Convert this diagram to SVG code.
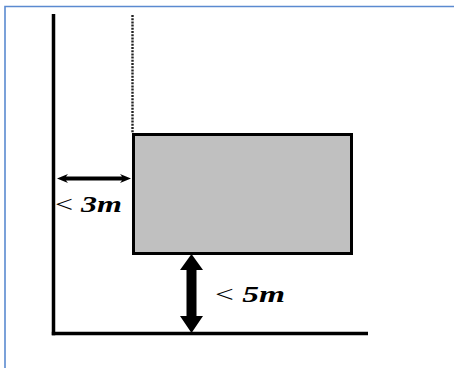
<svg xmlns="http://www.w3.org/2000/svg" width="454" height="368" viewBox="0 0 454 368">
  <style>
    .frame { fill: none; stroke: #5b8ad0; stroke-width: 1.6; }
    .wall { stroke: #000; stroke-width: 3.5; fill: none; }
    .dots { stroke: #222; stroke-width: 2.4; stroke-dasharray: 2 1.2; fill: none; }
    .box { fill: #c0c0c0; stroke: #000; stroke-width: 3; }
    .arrow { fill: #000; stroke: none; }
    .lbl { font-family: "Liberation Serif", "Times New Roman", serif; font-size: 24px; fill: #000; }
    .it { font-weight: bold; font-style: italic; }
  </style>
  <rect width="454" height="368" fill="#fff"/>
  <path class="frame" d="M5,368 V6.5 H454"/>
  <g id="wall">
    <path class="wall" d="M53.5,14 V335.3"/>
  </g>
  <g id="ground">
    <path class="wall" d="M51.8,333.5 H368"/>
  </g>
  <g id="boundary">
    <path class="dots" d="M132.5,15 V133"/>
  </g>
  <g id="building">
    <rect class="box" x="133.5" y="134.5" width="218" height="119"/>
  </g>
  <g id="connectors">
    <polygon class="arrow" points="57,178.5 68,174 66,176.6 122,176.6 120,174 131,178.5 120,183 122,180.4 66,180.4 68,183"/>
    <polygon class="arrow" points="191.5,254 203,270 196.5,270 196.5,316 203,316 191.5,333 180,316 186.5,316 186.5,270 180,270"/>
  </g>
  <g id="label-3m">
    <text class="lbl" x="55" y="212" textLength="67" lengthAdjust="spacingAndGlyphs">&lt; <tspan class="it">3m</tspan></text>
  </g>
  <g id="label-5m">
    <text class="lbl" x="215" y="302" textLength="70" lengthAdjust="spacingAndGlyphs">&lt; <tspan class="it">5m</tspan></text>
  </g>
</svg>
